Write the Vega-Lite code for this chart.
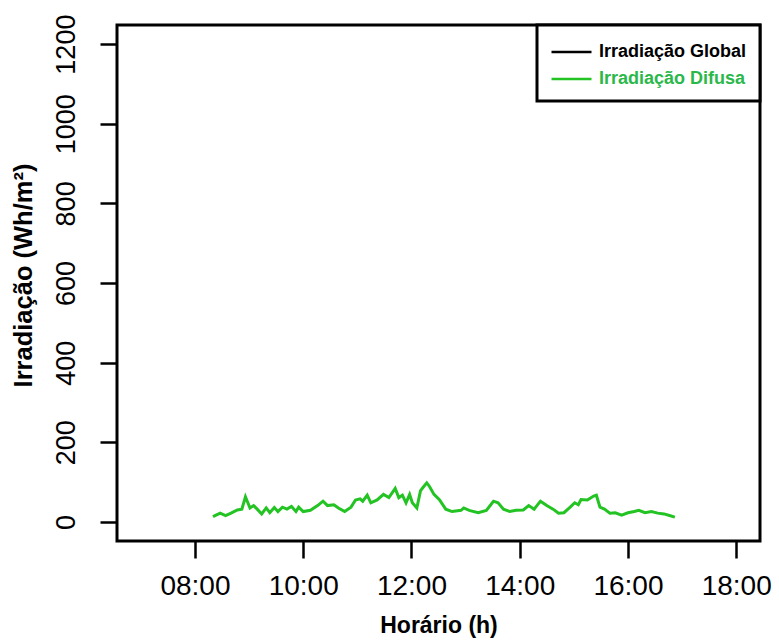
{
  "$schema": "https://vega.github.io/schema/vega-lite/v6.json",
  "width": 643,
  "height": 516,
  "autosize": {"type": "none"},
  "padding": {"left": 117, "top": 25, "right": 19, "bottom": 102},
  "background": "white",
  "config": {
    "view": {"stroke": "black", "strokeWidth": 3},
    "font": "Liberation Sans",
    "axis": {
      "grid": false,
      "domain": false,
      "tickColor": "black",
      "tickWidth": 2.5,
      "tickSize": 17,
      "labelColor": "black",
      "labelFont": "Liberation Sans",
      "labelFontSize": 27,
      "labelFontWeight": "normal",
      "titleFont": "Liberation Sans",
      "titleFontSize": 24,
      "titleFontWeight": "bold",
      "titleColor": "black"
    }
  },
  "data": {
    "values": [
      {"horario": "2024-01-01T08:20:00", "irradiacao": 13, "serie": "Irradiação Difusa"},
      {"horario": "2024-01-01T08:28:00", "irradiacao": 22, "serie": "Irradiação Difusa"},
      {"horario": "2024-01-01T08:34:00", "irradiacao": 16, "serie": "Irradiação Difusa"},
      {"horario": "2024-01-01T08:40:00", "irradiacao": 22, "serie": "Irradiação Difusa"},
      {"horario": "2024-01-01T08:47:00", "irradiacao": 30, "serie": "Irradiação Difusa"},
      {"horario": "2024-01-01T08:52:00", "irradiacao": 32, "serie": "Irradiação Difusa"},
      {"horario": "2024-01-01T08:56:00", "irradiacao": 63, "serie": "Irradiação Difusa"},
      {"horario": "2024-01-01T09:01:00", "irradiacao": 35, "serie": "Irradiação Difusa"},
      {"horario": "2024-01-01T09:05:00", "irradiacao": 41, "serie": "Irradiação Difusa"},
      {"horario": "2024-01-01T09:09:00", "irradiacao": 32, "serie": "Irradiação Difusa"},
      {"horario": "2024-01-01T09:14:00", "irradiacao": 20, "serie": "Irradiação Difusa"},
      {"horario": "2024-01-01T09:19:00", "irradiacao": 35, "serie": "Irradiação Difusa"},
      {"horario": "2024-01-01T09:23:00", "irradiacao": 23, "serie": "Irradiação Difusa"},
      {"horario": "2024-01-01T09:28:00", "irradiacao": 36, "serie": "Irradiação Difusa"},
      {"horario": "2024-01-01T09:32:00", "irradiacao": 26, "serie": "Irradiação Difusa"},
      {"horario": "2024-01-01T09:37:00", "irradiacao": 37, "serie": "Irradiação Difusa"},
      {"horario": "2024-01-01T09:42:00", "irradiacao": 32, "serie": "Irradiação Difusa"},
      {"horario": "2024-01-01T09:47:00", "irradiacao": 39, "serie": "Irradiação Difusa"},
      {"horario": "2024-01-01T09:52:00", "irradiacao": 26, "serie": "Irradiação Difusa"},
      {"horario": "2024-01-01T09:55:00", "irradiacao": 37, "serie": "Irradiação Difusa"},
      {"horario": "2024-01-01T10:00:00", "irradiacao": 26, "serie": "Irradiação Difusa"},
      {"horario": "2024-01-01T10:08:00", "irradiacao": 29, "serie": "Irradiação Difusa"},
      {"horario": "2024-01-01T10:16:00", "irradiacao": 41, "serie": "Irradiação Difusa"},
      {"horario": "2024-01-01T10:22:00", "irradiacao": 52, "serie": "Irradiação Difusa"},
      {"horario": "2024-01-01T10:27:00", "irradiacao": 41, "serie": "Irradiação Difusa"},
      {"horario": "2024-01-01T10:34:00", "irradiacao": 43, "serie": "Irradiação Difusa"},
      {"horario": "2024-01-01T10:39:00", "irradiacao": 35, "serie": "Irradiação Difusa"},
      {"horario": "2024-01-01T10:46:00", "irradiacao": 26, "serie": "Irradiação Difusa"},
      {"horario": "2024-01-01T10:53:00", "irradiacao": 37, "serie": "Irradiação Difusa"},
      {"horario": "2024-01-01T10:58:00", "irradiacao": 55, "serie": "Irradiação Difusa"},
      {"horario": "2024-01-01T11:03:00", "irradiacao": 58, "serie": "Irradiação Difusa"},
      {"horario": "2024-01-01T11:06:00", "irradiacao": 52, "serie": "Irradiação Difusa"},
      {"horario": "2024-01-01T11:11:00", "irradiacao": 67, "serie": "Irradiação Difusa"},
      {"horario": "2024-01-01T11:15:00", "irradiacao": 48, "serie": "Irradiação Difusa"},
      {"horario": "2024-01-01T11:22:00", "irradiacao": 55, "serie": "Irradiação Difusa"},
      {"horario": "2024-01-01T11:29:00", "irradiacao": 69, "serie": "Irradiação Difusa"},
      {"horario": "2024-01-01T11:35:00", "irradiacao": 61, "serie": "Irradiação Difusa"},
      {"horario": "2024-01-01T11:42:00", "irradiacao": 84, "serie": "Irradiação Difusa"},
      {"horario": "2024-01-01T11:46:00", "irradiacao": 61, "serie": "Irradiação Difusa"},
      {"horario": "2024-01-01T11:50:00", "irradiacao": 67, "serie": "Irradiação Difusa"},
      {"horario": "2024-01-01T11:54:00", "irradiacao": 48, "serie": "Irradiação Difusa"},
      {"horario": "2024-01-01T11:58:00", "irradiacao": 69, "serie": "Irradiação Difusa"},
      {"horario": "2024-01-01T12:01:00", "irradiacao": 48, "serie": "Irradiação Difusa"},
      {"horario": "2024-01-01T12:06:00", "irradiacao": 35, "serie": "Irradiação Difusa"},
      {"horario": "2024-01-01T12:10:00", "irradiacao": 78, "serie": "Irradiação Difusa"},
      {"horario": "2024-01-01T12:13:00", "irradiacao": 87, "serie": "Irradiação Difusa"},
      {"horario": "2024-01-01T12:17:00", "irradiacao": 98, "serie": "Irradiação Difusa"},
      {"horario": "2024-01-01T12:20:00", "irradiacao": 89, "serie": "Irradiação Difusa"},
      {"horario": "2024-01-01T12:25:00", "irradiacao": 69, "serie": "Irradiação Difusa"},
      {"horario": "2024-01-01T12:31:00", "irradiacao": 56, "serie": "Irradiação Difusa"},
      {"horario": "2024-01-01T12:38:00", "irradiacao": 32, "serie": "Irradiação Difusa"},
      {"horario": "2024-01-01T12:45:00", "irradiacao": 26, "serie": "Irradiação Difusa"},
      {"horario": "2024-01-01T12:55:00", "irradiacao": 29, "serie": "Irradiação Difusa"},
      {"horario": "2024-01-01T12:58:00", "irradiacao": 35, "serie": "Irradiação Difusa"},
      {"horario": "2024-01-01T13:04:00", "irradiacao": 29, "serie": "Irradiação Difusa"},
      {"horario": "2024-01-01T13:14:00", "irradiacao": 23, "serie": "Irradiação Difusa"},
      {"horario": "2024-01-01T13:23:00", "irradiacao": 29, "serie": "Irradiação Difusa"},
      {"horario": "2024-01-01T13:28:00", "irradiacao": 43, "serie": "Irradiação Difusa"},
      {"horario": "2024-01-01T13:31:00", "irradiacao": 52, "serie": "Irradiação Difusa"},
      {"horario": "2024-01-01T13:36:00", "irradiacao": 48, "serie": "Irradiação Difusa"},
      {"horario": "2024-01-01T13:42:00", "irradiacao": 32, "serie": "Irradiação Difusa"},
      {"horario": "2024-01-01T13:49:00", "irradiacao": 26, "serie": "Irradiação Difusa"},
      {"horario": "2024-01-01T13:56:00", "irradiacao": 29, "serie": "Irradiação Difusa"},
      {"horario": "2024-01-01T14:04:00", "irradiacao": 30, "serie": "Irradiação Difusa"},
      {"horario": "2024-01-01T14:10:00", "irradiacao": 41, "serie": "Irradiação Difusa"},
      {"horario": "2024-01-01T14:16:00", "irradiacao": 32, "serie": "Irradiação Difusa"},
      {"horario": "2024-01-01T14:23:00", "irradiacao": 52, "serie": "Irradiação Difusa"},
      {"horario": "2024-01-01T14:30:00", "irradiacao": 41, "serie": "Irradiação Difusa"},
      {"horario": "2024-01-01T14:37:00", "irradiacao": 32, "serie": "Irradiação Difusa"},
      {"horario": "2024-01-01T14:43:00", "irradiacao": 22, "serie": "Irradiação Difusa"},
      {"horario": "2024-01-01T14:49:00", "irradiacao": 23, "serie": "Irradiação Difusa"},
      {"horario": "2024-01-01T14:56:00", "irradiacao": 37, "serie": "Irradiação Difusa"},
      {"horario": "2024-01-01T15:01:00", "irradiacao": 48, "serie": "Irradiação Difusa"},
      {"horario": "2024-01-01T15:05:00", "irradiacao": 43, "serie": "Irradiação Difusa"},
      {"horario": "2024-01-01T15:08:00", "irradiacao": 56, "serie": "Irradiação Difusa"},
      {"horario": "2024-01-01T15:15:00", "irradiacao": 55, "serie": "Irradiação Difusa"},
      {"horario": "2024-01-01T15:22:00", "irradiacao": 65, "serie": "Irradiação Difusa"},
      {"horario": "2024-01-01T15:25:00", "irradiacao": 67, "serie": "Irradiação Difusa"},
      {"horario": "2024-01-01T15:29:00", "irradiacao": 37, "serie": "Irradiação Difusa"},
      {"horario": "2024-01-01T15:34:00", "irradiacao": 32, "serie": "Irradiação Difusa"},
      {"horario": "2024-01-01T15:40:00", "irradiacao": 22, "serie": "Irradiação Difusa"},
      {"horario": "2024-01-01T15:46:00", "irradiacao": 23, "serie": "Irradiação Difusa"},
      {"horario": "2024-01-01T15:53:00", "irradiacao": 17, "serie": "Irradiação Difusa"},
      {"horario": "2024-01-01T16:00:00", "irradiacao": 23, "serie": "Irradiação Difusa"},
      {"horario": "2024-01-01T16:07:00", "irradiacao": 26, "serie": "Irradiação Difusa"},
      {"horario": "2024-01-01T16:12:00", "irradiacao": 29, "serie": "Irradiação Difusa"},
      {"horario": "2024-01-01T16:19:00", "irradiacao": 23, "serie": "Irradiação Difusa"},
      {"horario": "2024-01-01T16:26:00", "irradiacao": 26, "serie": "Irradiação Difusa"},
      {"horario": "2024-01-01T16:33:00", "irradiacao": 22, "serie": "Irradiação Difusa"},
      {"horario": "2024-01-01T16:40:00", "irradiacao": 20, "serie": "Irradiação Difusa"},
      {"horario": "2024-01-01T16:46:00", "irradiacao": 16, "serie": "Irradiação Difusa"},
      {"horario": "2024-01-01T16:52:00", "irradiacao": 12, "serie": "Irradiação Difusa"}
    ]
  },
  "mark": {"type": "line", "strokeWidth": 3},
  "encoding": {
    "x": {
      "field": "horario",
      "type": "temporal",
      "scale": {
        "domain": [
          {"year": 2024, "month": 1, "date": 1, "hours": 6, "minutes": 33, "seconds": 36},
          {"year": 2024, "month": 1, "date": 1, "hours": 18, "minutes": 26, "seconds": 24}
        ]
      },
      "axis": {
        "values": [
          {"year": 2024, "month": 1, "date": 1, "hours": 8},
          {"year": 2024, "month": 1, "date": 1, "hours": 10},
          {"year": 2024, "month": 1, "date": 1, "hours": 12},
          {"year": 2024, "month": 1, "date": 1, "hours": 14},
          {"year": 2024, "month": 1, "date": 1, "hours": 16},
          {"year": 2024, "month": 1, "date": 1, "hours": 18}
        ],
        "format": "%H:%M",
        "title": "Horário (h)",
        "labelFontSize": 28,
        "labelPadding": 14,
        "labelFlush": false,
        "labelOverlap": false,
        "titleFontSize": 23,
        "titlePadding": 14
      }
    },
    "y": {
      "field": "irradiacao",
      "type": "quantitative",
      "scale": {"domain": [-48, 1248], "nice": false, "zero": false},
      "axis": {
        "values": [0, 200, 400, 600, 800, 1000, 1200],
        "format": "d",
        "title": "Irradiação (Wh/m²)",
        "titleFontSize": 25.5,
        "titleY": 250,
        "labelAngle": -90,
        "labelAlign": "center",
        "labelBaseline": "bottom",
        "labelPadding": 20,
        "labelOverlap": false,
        "labelFlush": false,
        "titlePadding": 16
      }
    },
    "color": {
      "field": "serie",
      "type": "nominal",
      "scale": {
        "domain": ["Irradiação Global", "Irradiação Difusa"],
        "range": ["black", "#22c322"]
      },
      "legend": {
        "title": null,
        "orient": "none",
        "legendX": 420,
        "legendY": 0,
        "padding": 13,
        "fillColor": "white",
        "strokeColor": "black",
        "symbolType": "M-1,0H2.2",
        "symbolSize": 625,
        "symbolStrokeWidth": 2.5,
        "labelFont": "Liberation Sans",
        "labelFontSize": 18,
        "labelFontWeight": "bold",
        "labelOffset": 21,
        "labelLimit": 300,
        "rowPadding": 4,
        "encode": {
          "legend": {"update": {"strokeWidth": {"value": 3}}},
          "labels": {"update": {"fill": {"signal": "datum.label === 'Irradiação Difusa' ? '#2bb84a' : 'black'"}}}
        }
      }
    }
  }
}
